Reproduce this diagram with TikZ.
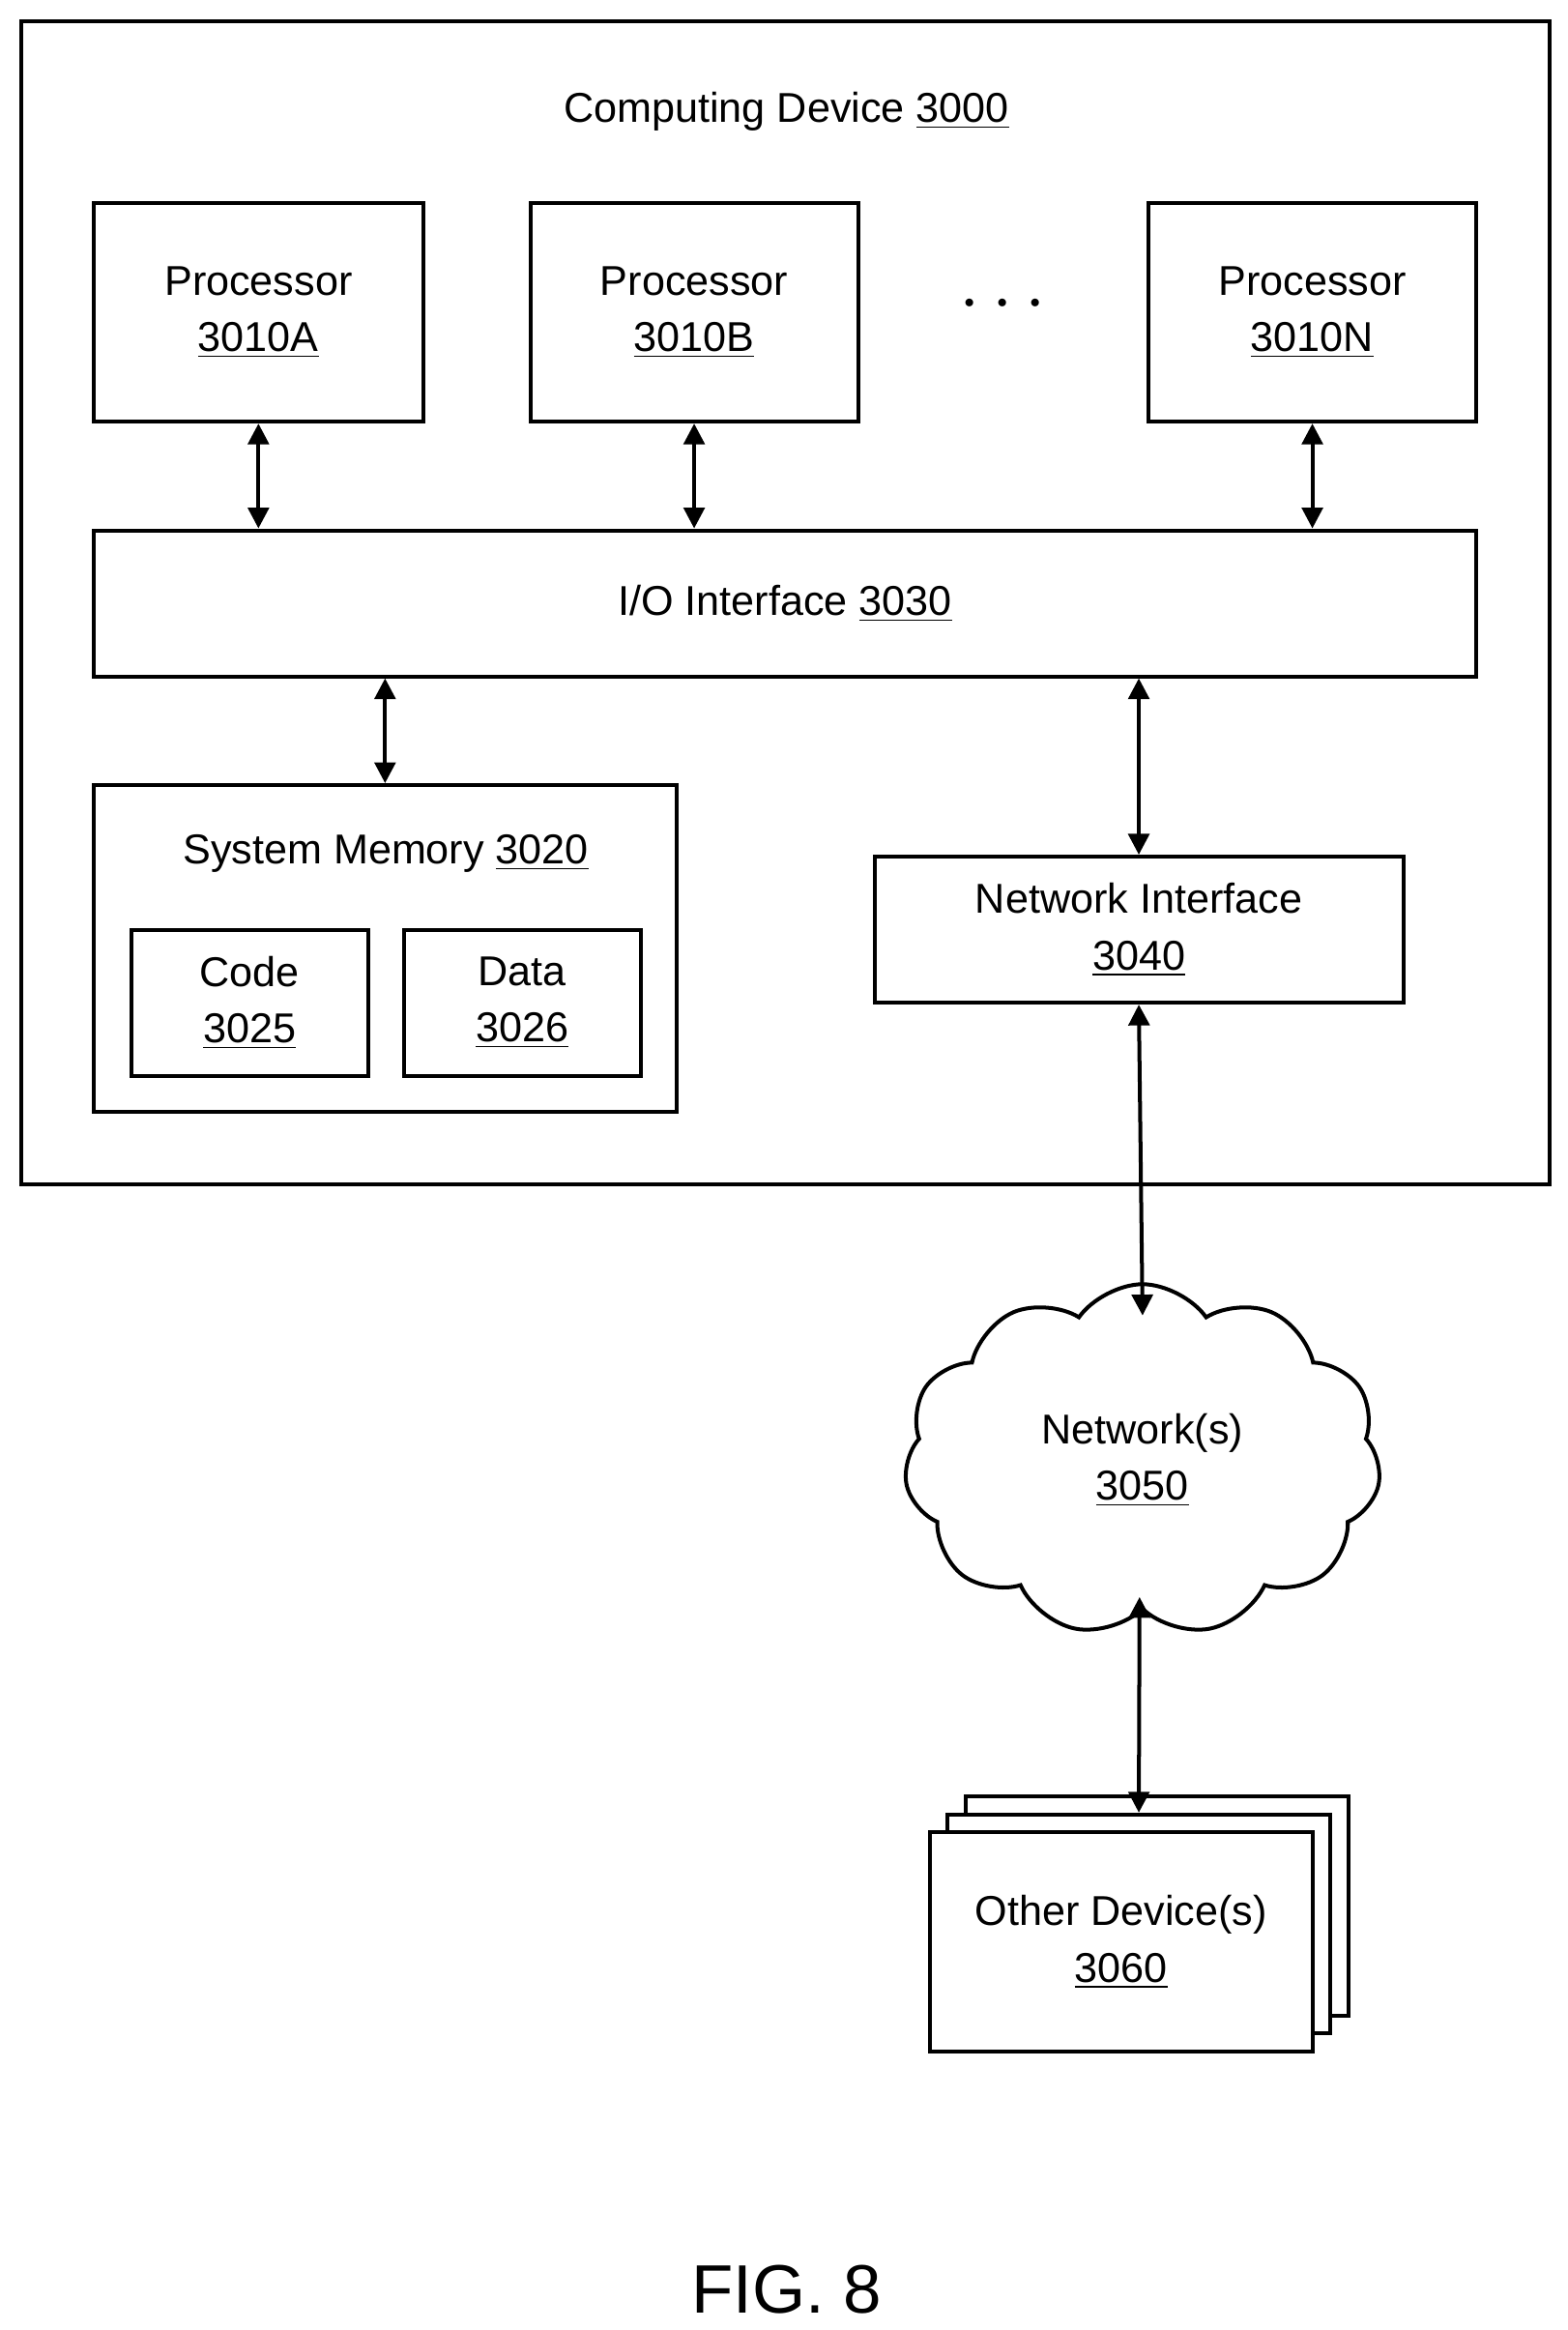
\documentclass[tikz,border=0pt]{standalone}
\usepackage{fontspec}
\setmainfont{Liberation Sans}
\usetikzlibrary{arrows.meta,shapes.symbols}
\tikzset{
  box/.style={draw, line width=1.3pt, inner sep=0pt, align=center,
    font=\fontsize{14}{19}\selectfont},
  link/.style={{Triangle[length=7pt,width=7pt]}-{Triangle[length=7pt,width=7pt]}, line width=1.3pt},
}
\newcommand{\ul}[1]{\underline{#1}}
\begin{document}
\begin{tikzpicture}[x=0.5pt,y=-0.5pt]
  \useasboundingbox (0,0) rectangle (1052,1564);

  % Define nodes
  \node[box, minimum width=513pt, minimum height=390.5pt] (dev) at (527,404.5) {};
  \node[box, draw=none] (devlabel) at (528,75) {Computing Device \ul{3000}};

  \node[box, minimum width=110.5pt, minimum height=73.5pt] (procA) at (173.5,209.5) {Processor\\\ul{3010A}};
  \node[box, minimum width=110pt, minimum height=73.5pt] (procB) at (466,209.5) {Processor\\\ul{3010B}};
  \node[box, minimum width=110pt, minimum height=73.5pt] (procN) at (881,209.5) {Processor\\\ul{3010N}};
  \node[font=\fontsize{30}{30}\selectfont] (dots) at (673,205) {$\cdots$};

  \node[box, minimum width=464pt, minimum height=49pt] (io) at (527,405) {I/O Interface \ul{3030}};

  \node[box, minimum width=195.5pt, minimum height=109.5pt] (mem) at (258.5,636.5) {};
  \node[box, draw=none] (memlabel) at (259,573) {System Memory \ul{3020}};
  \node[box, minimum width=79.5pt, minimum height=49pt] (code) at (167.5,673) {Code\\\ul{3025}};
  \node[box, minimum width=79.5pt, minimum height=49pt] (data) at (350.5,673) {Data\\\ul{3026}};

  \node[box, minimum width=177.5pt, minimum height=49pt] (nic) at (764.5,624) {Network Interface\\\ul{3040}};

  \node[cloud, cloud puffs=11, cloud puff arc=110, aspect=1.3, draw, line width=1.3pt,
    minimum width=160pt, minimum height=118pt, align=center,
    font=\fontsize{14}{19}\selectfont] (net) at (767,980) {Network(s)\\\ul{3050}};

  \node[box, fill=white, minimum width=128.5pt, minimum height=73.5pt] (oth3) at (776.5,1279.5) {};
  \node[box, fill=white, minimum width=128.5pt, minimum height=73.5pt] (oth2) at (764.5,1291.5) {};
  \node[box, fill=white, minimum width=128.5pt, minimum height=73.5pt] (oth) at (752.5,1303.5) {Other Device(s)\\\ul{3060}};

  \node[font=\fontsize{23}{23}\selectfont] (fig) at (528,1537) {FIG. 8};

  % Connect nodes
  \draw[link] (procA.south) -- (procA.south |- io.north);
  \draw[link] (procB.south) -- (procB.south |- io.north);
  \draw[link] (procN.south) -- (procN.south |- io.north);
  \draw[link] (mem.north) -- (mem.north |- io.south);
  \draw[link] (nic.north) -- (nic.north |- io.south);
  \draw[link] (nic.south) -- (767,883);
  \draw[link] (765,1072) -- (oth2.north);
\end{tikzpicture}
\end{document}
